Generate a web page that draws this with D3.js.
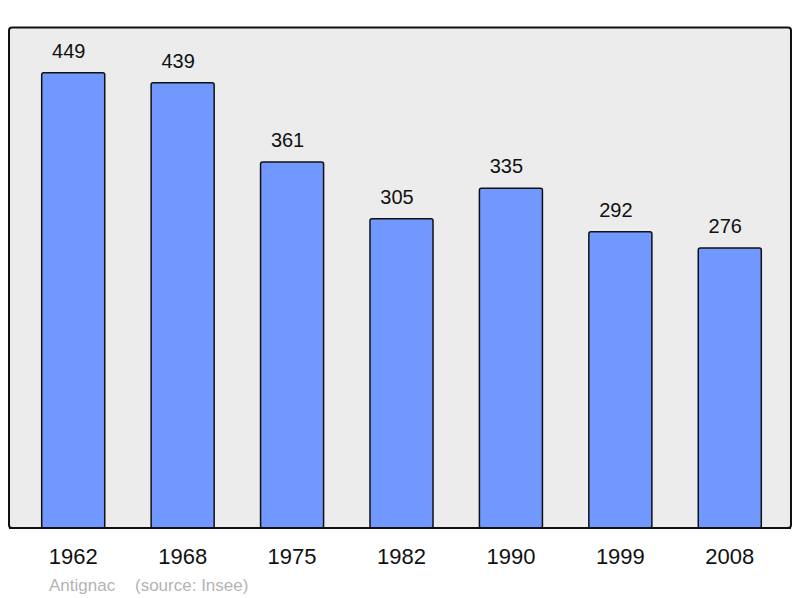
<!DOCTYPE html>
<meta charset="utf-8">
<body style="margin:0;background:#fff">
<svg width="800" height="598"></svg>
</body>
<script src="https://d3js.org/d3.v7.min.js"></script>
<script>

var years = ["1962", "1968", "1975", "1982", "1990", "1999", "2008"];
var population = [449, 439, 361, 305, 335, 292, 276];
var commune = "Antignac";
var source = "(source: Insee)";

var svg = d3.select("svg"),
    font = "'Liberation Sans', Arial, sans-serif";

var x = d3.scaleBand()
    .domain(years)
    .range([18.5, 784.5])
    .paddingInner(0.424)
    .paddingOuter(0.212);

var y = d3.scaleLinear()
    .domain([0, 494])
    .range([528, 27]);

// frame
svg.append("rect")
    .attr("x", 9).attr("y", 27.5)
    .attr("width", 782).attr("height", 500.5)
    .attr("rx", 3)
    .attr("fill", "#ececec")
    .attr("stroke", "#111")
    .attr("stroke-width", 2);

var data = years.map((d, i) => ({year: d, value: population[i]}));

svg.selectAll(".bar")
    .data(data)
  .enter().append("rect")
    .attr("class", "bar")
    .attr("x", d => x(d.year))
    .attr("y", d => y(d.value))
    .attr("width", x.bandwidth())
    .attr("height", d => y(0) - y(d.value))
    .attr("rx", 2)
    .attr("fill", "#7098ff")
    .attr("stroke", "#111")
    .attr("stroke-width", 1.5);

// redraw bottom edge of frame over bars
svg.append("line")
    .attr("x1", 9).attr("x2", 791)
    .attr("y1", 528).attr("y2", 528)
    .attr("stroke", "#111")
    .attr("stroke-width", 2);

// value labels sit a little left of the bar centre
svg.selectAll(".val")
    .data(data)
  .enter().append("text")
    .attr("x", d => x(d.year) + x.bandwidth() / 2 - 4.5)
    .attr("y", d => y(d.value) - 15)
    .attr("text-anchor", "middle")
    .attr("font-family", font)
    .attr("font-size", 20)
    .attr("fill", "#111")
    .text(d => d.value);

var axis = d3.axisBottom(x).tickSize(0).tickPadding(0);
var g = svg.append("g")
    .attr("transform", "translate(0,548)")
    .call(axis);
g.select(".domain").remove();
g.selectAll("text")
    .attr("font-family", font)
    .attr("font-size", 22)
    .attr("fill", "#111")
    .attr("dy", "0.71em");

svg.append("text")
    .attr("x", 49).attr("y", 590.5)
    .attr("font-family", font)
    .attr("font-size", 17)
    .attr("fill", "#b4b4b4")
    .text(commune);

svg.append("text")
    .attr("x", 135).attr("y", 590.5)
    .attr("font-family", font)
    .attr("font-size", 17)
    .attr("fill", "#b4b4b4")
    .text(source);

</script>
